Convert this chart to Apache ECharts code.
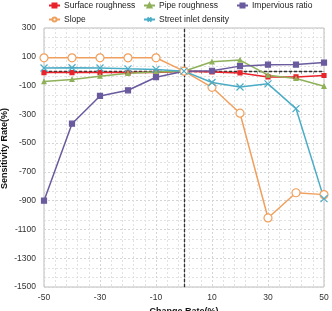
<!DOCTYPE html>
<html>
<head>
<meta charset="utf-8">
<script src="https://cdn.jsdelivr.net/npm/echarts@6/dist/echarts.min.js"></script>
<style>
  html, body { margin: 0; padding: 0; background: #fff; }
  #chart { width: 332px; height: 311px; }
</style>
</head>
<body>
<div id="chart"></div>
<script>
// change rate (%) on x
const changeRate = [-50, -40, -30, -20, -10, 0, 10, 20, 30, 40, 50];

// sensitivity rate (%) per parameter
const surfaceRoughness = [-10, -10, -10, -10, -10, 0, -5, -12, -40, -40, -30];
const pipeRoughness = [-72, -58, -35, -15, -5, 0, 65, 77, -28, -51, -105];
const imperviousRatio = [-900, -365, -172, -133, -42, 0, 3, 35, 45, 46, 60];
const slope = [93, 93, 93, 93, 93, 0, -112, -292, -1020, -845, -858];
const streetInletDensity = [22, 24, 22, 16, 12, 0, -79, -110, -88, -260, -886];

const names = ['Surface roughness', 'Pipe roughness', 'Impervious ratio', 'Slope', 'Street inlet density'];
const values = [surfaceRoughness, pipeRoughness, imperviousRatio, slope, streetInletDensity];
const colors = ['#e8232b', '#8eb15a', '#6a5a9e', '#f0a05e', '#4bacc6'];

const yTicks = { min: -1500, max: 300, interval: 200 };
const xTicks = { min: -50, max: 50, interval: 20 };

const font = 'Liberation Sans, Arial, sans-serif';

const symbols = [
  { symbol: 'rect', symbolSize: 4, fill: null },
  { symbol: 'triangle', symbolSize: 4, fill: null },
  { symbol: 'rect', symbolSize: 5, fill: null },
  { symbol: 'circle', symbolSize: 8, fill: '#fff' },
  { symbol: 'path://M0,0L10,10M10,0L0,10', symbolSize: 7, fill: 'none' }
];

const series = names.map((name, i) => {
  const s = {
    name: name,
    type: 'line',
    data: changeRate.map((x, j) => [x, values[i][j]]),
    symbol: symbols[i].symbol,
    symbolSize: symbols[i].symbolSize,
    showAllSymbol: true,
    lineStyle: { color: colors[i], width: 1.5 },
    itemStyle: {
      color: symbols[i].fill || colors[i],
      borderColor: colors[i],
      borderWidth: 1.2
    },
    z: 3
  };
  if (i === 0) {
    s.markLine = {
      silent: true,
      symbol: 'none',
      label: { show: false },
      lineStyle: { color: '#333', type: [3, 2], width: 1.3 },
      data: [{ xAxis: 0 }, { yAxis: 0 }],
      z: 2
    };
  }
  return s;
});

// legend placed like the original: 3 items on first row, 2 on second
const legendPos = [
  { left: 48, top: 1 },
  { left: 143, top: 1 },
  { left: 236, top: 1 },
  { left: 48, top: 15 },
  { left: 143, top: 15 }
];
const legends = names.map((name, i) => ({
  data: [name],
  left: legendPos[i].left,
  top: legendPos[i].top,
  itemWidth: 11,
  itemHeight: 5,
  itemGap: 0,
  textStyle: { fontFamily: font, fontSize: 8.5, color: '#222', padding: [0, 0, 0, -1] },
  padding: 0
}));

const chart = echarts.init(document.getElementById('chart'));
chart.setOption({
  backgroundColor: '#fff',
  animation: false,
  color: colors,
  legend: legends,
  grid: {
    left: 44, right: 8, top: 28, bottom: 24,
    outerBoundsMode: 'none',
    containLabel: false,
    show: true, borderColor: '#bdbdbd', borderWidth: 1
  },
  xAxis: {
    type: 'value',
    min: xTicks.min, max: xTicks.max, interval: xTicks.interval,
    name: 'Change Rate(%)',
    nameLocation: 'middle',
    nameGap: 20,
    nameMoveOverlap: false,
    nameTextStyle: { fontFamily: font, fontSize: 9, fontWeight: 'bold', color: '#111' },
    axisLine: { show: true, lineStyle: { color: '#a8a8a8' } },
    axisTick: { show: false },
    minorTick: { show: true, splitNumber: 5, length: 3, lineStyle: { color: '#a8a8a8' } },
    axisLabel: { fontFamily: font, fontSize: 8.5, color: '#333', margin: 6 },
    splitLine: { show: true, lineStyle: { color: '#d4d4d4', type: [2, 2] } },
    minorSplitLine: { show: true, lineStyle: { color: '#e2e2e2', type: [2, 2] } }
  },
  yAxis: {
    type: 'value',
    min: yTicks.min, max: yTicks.max, interval: yTicks.interval,
    name: 'Sensitivity Rate(%)',
    nameLocation: 'middle',
    nameGap: 35,
    nameMoveOverlap: false,
    nameTextStyle: { fontFamily: font, fontSize: 9, fontWeight: 'bold', color: '#111', padding: [0, 0, 0, 18] },
    axisLine: { show: true, lineStyle: { color: '#a8a8a8' } },
    axisTick: { show: false },
    axisLabel: { fontFamily: font, fontSize: 8.5, color: '#333', margin: 8, formatter: v => String(v) },
    splitLine: { show: true, lineStyle: { color: '#d4d4d4', type: [2, 2] } },
    minorTick: { show: false, splitNumber: 3 },
    minorSplitLine: { show: true, lineStyle: { color: '#e2e2e2', type: [2, 2] } }
  },
  series: series
});
</script>
</body>
</html>
